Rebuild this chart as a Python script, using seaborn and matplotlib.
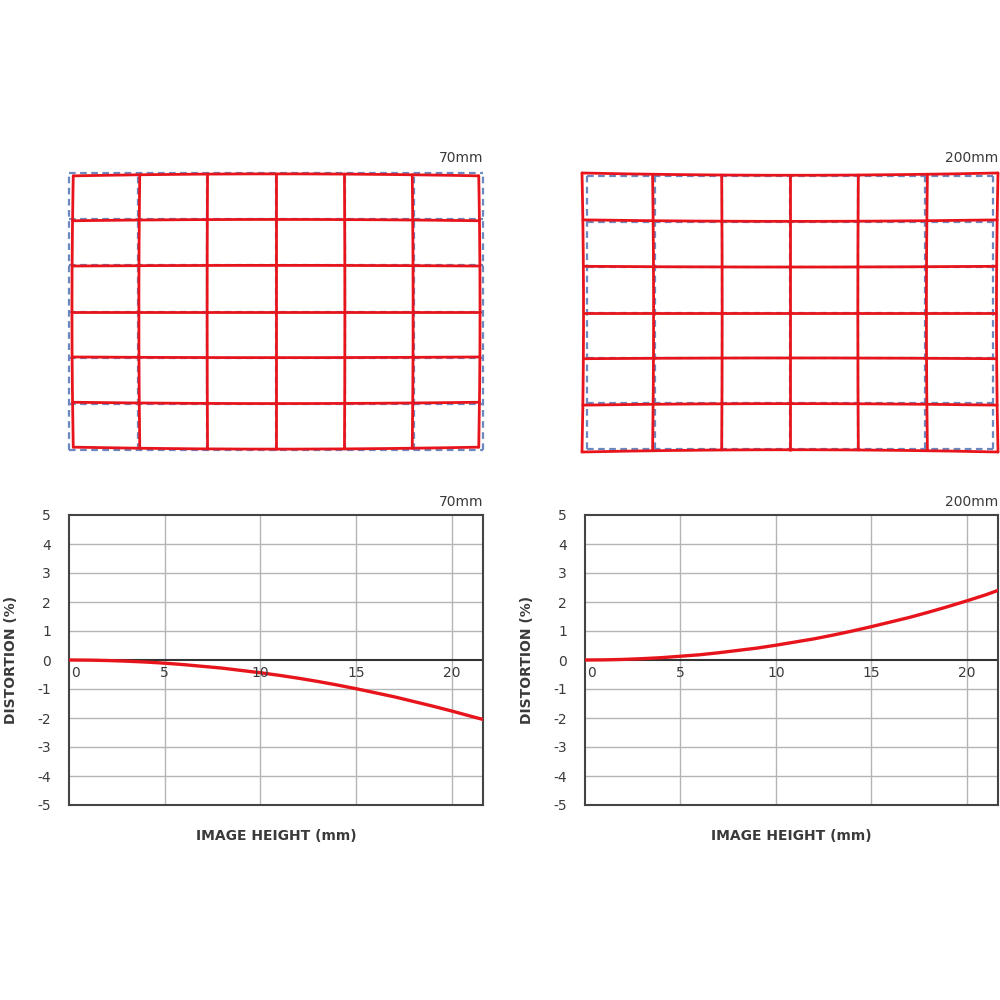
import numpy as np
import pandas as pd
import matplotlib
matplotlib.use("Agg")
import matplotlib.pyplot as plt
import seaborn as sns

# ---- data ----
focal_labels = ["70mm", "200mm"]
image_height = [0, 1, 2, 3, 4, 5, 6, 7, 8, 9, 10, 11, 12, 13, 14, 15, 16, 17,
                18, 19, 20, 21, 21.63]
dist_70 = [0, -0.004, -0.018, -0.04, -0.07, -0.11, -0.16, -0.22, -0.28, -0.36,
           -0.44, -0.53, -0.63, -0.74, -0.86, -0.99, -1.13, -1.27, -1.43, -1.59,
           -1.76, -1.94, -2.05]
dist_200 = [0, 0.005, 0.02, 0.046, 0.08, 0.13, 0.18, 0.25, 0.33, 0.41, 0.51,
            0.62, 0.73, 0.86, 1.0, 1.15, 1.31, 1.47, 1.65, 1.84, 2.04, 2.25, 2.4]
grid_x = [-18, -12, -6, 0, 6, 12, 18]   # sensor grid columns (mm)
grid_y = [-12, -8, -4, 0, 4, 8, 12]     # sensor grid rows (mm)
x_ticks = [0, 5, 10, 15, 20]
y_ticks = [-5, -4, -3, -2, -1, 0, 1, 2, 3, 4, 5]

sns.set_theme(style="white")
plt.rcParams['font.family'] = ['DejaVu Sans']

RED = "#e8141c"
BLUE = "#6b88c0"
TXT = "#3a3a3a"

fig = plt.figure(figsize=(10, 10), dpi=100)
ax_g1 = fig.add_axes([0.069, 0.550, 0.414, 0.277])
ax_g2 = fig.add_axes([0.582, 0.548, 0.416, 0.279])
ax_c1 = fig.add_axes([0.069, 0.195, 0.414, 0.290])
ax_c2 = fig.add_axes([0.585, 0.195, 0.413, 0.290])


def draw_grid(ax, dist, label):
    h = np.array(image_height)
    d = np.array(dist)
    t = np.linspace(-1, 1, 300)

    def warp(x, y):
        r = np.hypot(x, y)
        s = 1 + np.interp(r, h, d) / 100.0
        return x * s, y * s

    # ideal grid (blue dashed)
    for gx in grid_x:
        ax.plot([gx, gx], [grid_y[0], grid_y[-1]], color=BLUE, lw=1.6,
                ls=(0, (3, 2)), clip_on=False, zorder=1)
    for gy in grid_y:
        ax.plot([grid_x[0], grid_x[-1]], [gy, gy], color=BLUE, lw=1.6,
                ls=(0, (3, 2)), clip_on=False, zorder=1)
    # distorted grid (red)
    for gx in grid_x:
        ys = t * grid_y[-1]
        xw, yw = warp(np.full_like(ys, gx), ys)
        ax.plot(xw, yw, color=RED, lw=2.0, clip_on=False, zorder=2)
    for gy in grid_y:
        xs = t * grid_x[-1]
        xw, yw = warp(xs, np.full_like(xs, gy))
        ax.plot(xw, yw, color=RED, lw=2.0, clip_on=False, zorder=2)
    ext = max(1.0, 1 + d[-1] / 100.0)
    ax.set_xlim(-18 * ext, 18 * ext)
    ax.set_ylim(-12 * ext, 12 * ext)
    ax.axis("off")
    ax.text(1.0, 1.03, label, transform=ax.transAxes, ha="right", va="bottom",
            fontsize=10, color=TXT)


def draw_curve(ax, dist, label):
    df = pd.DataFrame({"h": image_height, "d": dist})
    ax.set_xlim(0, 21.63)
    ax.set_ylim(-5, 5)
    for gx in [5, 10, 15, 20]:
        ax.axvline(gx, color="#b5b5b5", lw=1.0, zorder=0)
    for gy in y_ticks[1:-1]:
        if gy == 0:
            ax.axhline(gy, color="#333333", lw=1.5, zorder=1)
        else:
            ax.axhline(gy, color="#b5b5b5", lw=1.0, zorder=0)
    sns.lineplot(data=df, x="h", y="d", ax=ax, color=RED, lw=2.4, zorder=3)
    ax.set_xticks([])
    ax.set_yticks(y_ticks)
    ax.set_yticklabels([str(v) for v in y_ticks], fontsize=10, color=TXT)
    ax.tick_params(axis="y", length=0, pad=13)
    for v in x_ticks:
        xpos = v + 0.35 if v == 0 else v
        ax.text(xpos, -0.2, str(v), ha="center", va="top", fontsize=10, color=TXT)
    ax.set_xlabel("IMAGE HEIGHT (mm)", fontsize=10, color=TXT, labelpad=17,
                  fontweight="bold")
    ax.set_ylabel("DISTORTION (%)", fontsize=10, color=TXT, labelpad=14,
                  fontweight="bold")
    for sp in ax.spines.values():
        sp.set_color("#444444")
        sp.set_linewidth(1.5)
    ax.text(1.0, 1.02, label, transform=ax.transAxes, ha="right", va="bottom",
            fontsize=10, color=TXT)


draw_grid(ax_g1, dist_70, focal_labels[0])
draw_grid(ax_g2, dist_200, focal_labels[1])
draw_curve(ax_c1, dist_70, focal_labels[0])
draw_curve(ax_c2, dist_200, focal_labels[1])

fig.savefig("out.png", dpi=100, facecolor="white")
